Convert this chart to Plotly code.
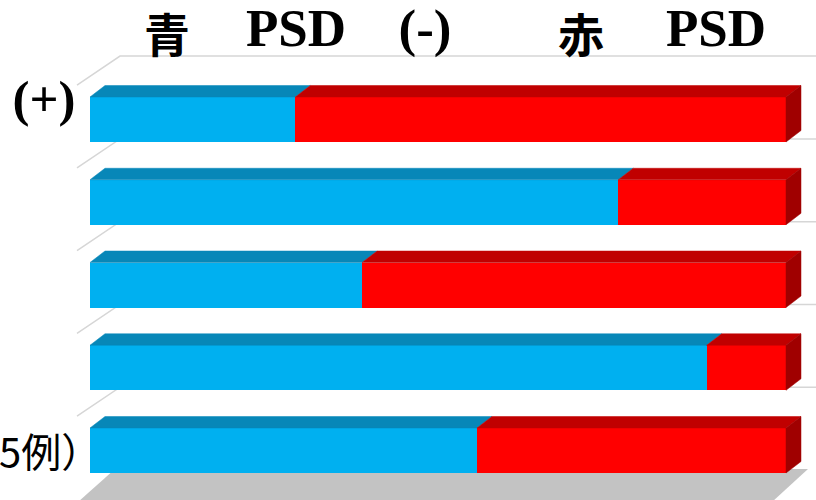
import plotly.graph_objects as go

# ---- data (percent of cases per row, top row first) ----
rows = ["row1", "row2", "row3", "row4", "row5"]
blue_pct = [29.5, 75.9, 39.1, 88.6, 55.6]   # 青 PSD
red_pct = [70.5, 24.1, 60.9, 11.4, 44.4]    # 赤 PSD
title_latin = ["PSD", "(-)", "PSD"]
title_cjk = ["青", "赤"]
left_labels = ["(+)", "5例）"]

# ---- geometry / style constants ----
W, H = 816, 500
PX_PER_PCT = 6.96          # horizontal pixels per percent
X0_PX = 90                 # pixel of value 0
ROW_PX = 82.75             # pixels per row
ROW0_PX = 119.5            # pixel centre of first row
N = len(rows)

def xd(px):
    return (px - X0_PX) / PX_PER_PCT

def yd(py):
    return (N - 1) - (py - ROW0_PX) / ROW_PX

BAR_W = 45 / ROW_PX
DX = 15 / PX_PER_PCT
DY = 11.5 / ROW_PX

BLUE, BLUE_TOP = "#00B0F0", "#0787B8"
RED, RED_TOP, RED_SIDE = "#FF0000", "#C00000", "#A00000"
SERIF = "Liberation Serif, Times New Roman, Noto Serif CJK JP, DejaVu Serif, serif"
CJK = "Noto Sans CJK JP"

ypos = [(N - 1) - i for i in range(N)]

fig = go.Figure()

# front faces (stacked bars)
fig.add_trace(go.Bar(y=ypos, x=blue_pct, orientation="h", width=BAR_W,
                     marker=dict(color=BLUE, line=dict(width=0)), hoverinfo="skip"))
fig.add_trace(go.Bar(y=ypos, x=red_pct, orientation="h", width=BAR_W,
                     marker=dict(color=RED, line=dict(width=0)), hoverinfo="skip"))

def poly(xs, ys, color):
    fig.add_trace(go.Scatter(x=xs + [xs[0]], y=ys + [ys[0]], mode="lines", fill="toself",
                             fillcolor=color, line=dict(color=color, width=0.5),
                             hoverinfo="skip", showlegend=False))

# top and side faces computed from data
for y, b, r in zip(ypos, blue_pct, red_pct):
    top = y + BAR_W / 2
    bot = y - BAR_W / 2
    end = b + r
    poly([0, b, b + DX, DX], [top, top, top + DY, top + DY], BLUE_TOP)
    poly([b, end, end + DX, b + DX], [top, top, top + DY, top + DY], RED_TOP)
    poly([end, end + DX, end + DX, end], [top, top + DY, bot + DY, bot], RED_SIDE)

# Latin labels as text traces (serif bold)
fig.add_trace(go.Scatter(
    x=[xd(296), xd(425), xd(716)], y=[yd(33)] * 3, mode="text", text=title_latin,
    textposition="middle center", cliponaxis=False, hoverinfo="skip", showlegend=False,
    textfont=dict(family=SERIF, size=53, color="black", weight="bold")))
fig.add_trace(go.Scatter(
    x=[xd(44)], y=[yd(103)], mode="text", text=[left_labels[0]],
    textposition="middle center", cliponaxis=False, hoverinfo="skip", showlegend=False,
    textfont=dict(family=SERIF, size=51, color="black", weight="bold")))

shapes = []
# floor
fx = [xd(115), xd(808), xd(772), xd(78)]
fy = [yd(469), yd(469), yd(502), yd(502)]
path = "M " + " L ".join(f"{a},{c}" for a, c in zip(fx, fy)) + " Z"
shapes.append(dict(type="path", path=path, xref="x", yref="y", layer="below",
                   fillcolor="#C3C3C3", line=dict(width=0)))
# wall gridlines at row boundaries
for k in range(N):
    yb = (N - 1) - k + 0.5
    y_front = yb - 7 / ROW_PX
    y_back = yb + 22 / ROW_PX
    p = f"M {xd(77)},{y_front} L {xd(120)},{y_back} L {xd(830)},{y_back}"
    shapes.append(dict(type="path", path=p, xref="x", yref="y", layer="below",
                       line=dict(color="#D6D6D6", width=1.5)))

ann = []
for word, cx in zip(title_cjk, [167, 581]):
    ann.append(dict(text=word, x=cx / W, y=1 - 32 / H, xref="paper", yref="paper",
                    xanchor="center", yanchor="middle", showarrow=False,
                    font=dict(family=CJK, size=46, color="black", weight="bold")))
ann.append(dict(text=left_labels[1], x=-3 / W, y=1 - 450 / H, xref="paper", yref="paper",
                xanchor="left", yanchor="middle", showarrow=False,
                font=dict(family=CJK, size=40, color="black")))

fig.update_layout(
    width=W, height=H, margin=dict(l=0, r=0, t=0, b=0),
    barmode="stack", showlegend=False,
    paper_bgcolor="white", plot_bgcolor="white",
    xaxis=dict(range=[xd(0), xd(W)], visible=False, fixedrange=True),
    yaxis=dict(range=[yd(H), yd(0)], visible=False, fixedrange=True),
    shapes=shapes, annotations=ann,
)

fig.write_html("out.html", config={"displayModeBar": False},
               post_script="document.body.style.margin='0';")
